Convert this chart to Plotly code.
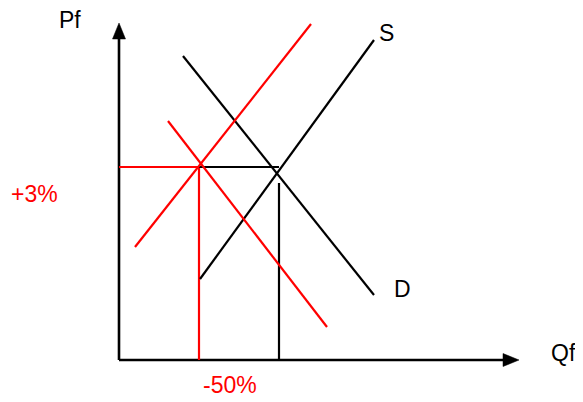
import plotly.graph_objects as go

# Axis extents (data units)
Q_MAX = 400
P_MAX = 337

# Original supply and demand curves (Q, P endpoints)
supply_q = [81, 255]
supply_p = [81, 320]
demand_q = [64, 255]
demand_p = [304, 65]

# Shifted supply and demand curves (red)
supply2_q = [16, 192]
supply2_p = [113, 336]
demand2_q = [49, 208]
demand2_p = [239, 33]

# Equilibrium guide lines
price_level = 193
q_new = 80
q_old = 160
q_old_top = 177

BLACK = "#000000"
RED = "#ff0000"
FONT = "Liberation Sans, Arial, sans-serif"
FS = 23

fig = go.Figure()


def line(xs, ys, color, width=2.2):
    fig.add_trace(go.Scatter(x=xs, y=ys, mode="lines",
                             line=dict(color=color, width=width),
                             hoverinfo="skip", showlegend=False))


# Axes with arrowheads
AH_LEN = 16
AH_HALF = 6.5
line([0, 0], [0, P_MAX - AH_LEN + 1], BLACK, 2.6)
line([0, Q_MAX - AH_LEN + 1], [0, 0], BLACK, 2.6)
fig.add_trace(go.Scatter(x=[-AH_HALF, AH_HALF, 0, -AH_HALF],
                         y=[P_MAX - AH_LEN, P_MAX - AH_LEN, P_MAX, P_MAX - AH_LEN],
                         fill="toself", fillcolor=BLACK, mode="lines",
                         line=dict(color=BLACK, width=0.5),
                         hoverinfo="skip", showlegend=False))
fig.add_trace(go.Scatter(x=[Q_MAX - AH_LEN, Q_MAX - AH_LEN, Q_MAX, Q_MAX - AH_LEN],
                         y=[-AH_HALF, AH_HALF, 0, -AH_HALF],
                         fill="toself", fillcolor=BLACK, mode="lines",
                         line=dict(color=BLACK, width=0.5),
                         hoverinfo="skip", showlegend=False))

# Guide lines
line([0, q_new], [price_level, price_level], RED)
line([q_new, q_new], [0, price_level], RED)
line([q_new, q_old], [price_level, price_level], BLACK)
line([q_old, q_old], [0, q_old_top], BLACK)

# Curves
line(supply_q, supply_p, BLACK)
line(demand_q, demand_p, BLACK)
line(supply2_q, supply2_p, RED)
line(demand2_q, demand2_p, RED)

labels = [
    ("Pf", -49, 340, BLACK),
    ("Qf", 444, 7, BLACK),
    ("S", 267, 327, BLACK),
    ("D", 283, 71, BLACK),
    ("+3%", -85, 166, RED),
    ("-50%", 111, -25, RED),
]
for txt, x, y, c in labels:
    fig.add_annotation(x=x, y=y, text=txt, showarrow=False,
                       xanchor="center", yanchor="middle",
                       font=dict(family=FONT, size=FS, color=c))

# The page body adds an 8px offset; the figure is sized to fit the remaining window
fig.update_layout(
    width=575, height=394,
    margin=dict(l=0, r=0, t=0, b=0),
    paper_bgcolor="white", plot_bgcolor="white",
    xaxis=dict(range=[-111, 464], visible=False, fixedrange=True),
    yaxis=dict(range=[-42, 352], visible=False, fixedrange=True),
    showlegend=False,
)

fig.write_html("out.html")
